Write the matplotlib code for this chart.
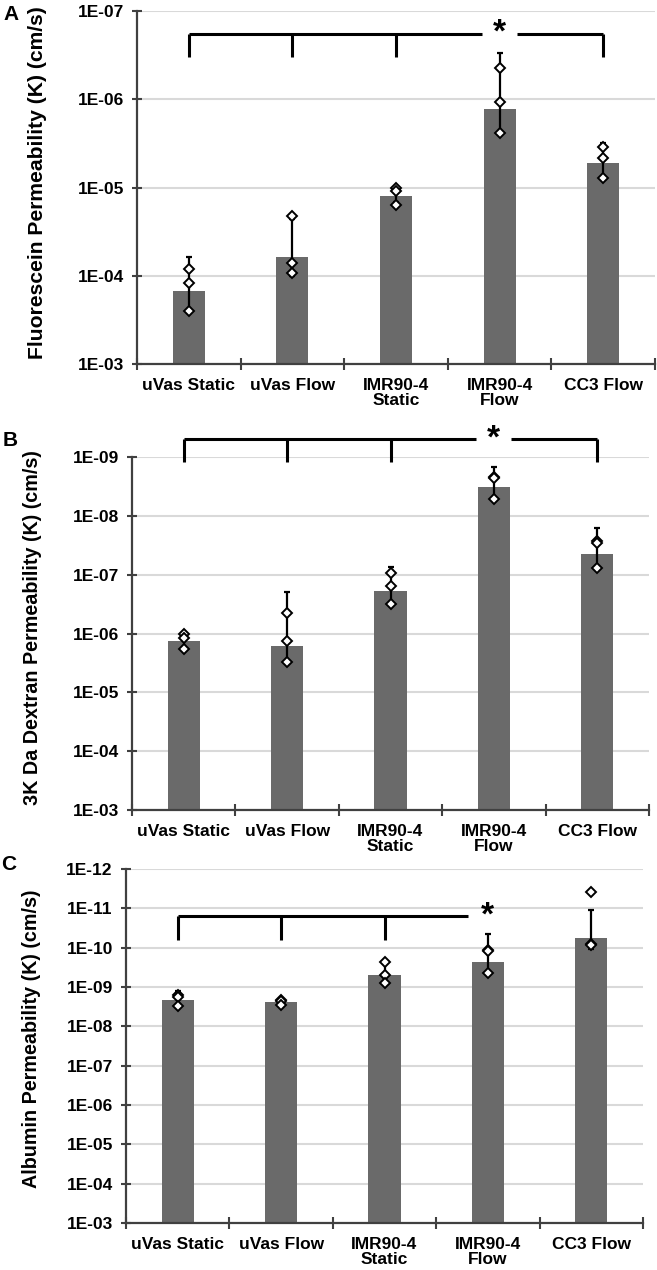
import numpy as np
import matplotlib
matplotlib.use("Agg")
import matplotlib.pyplot as plt
from matplotlib.ticker import FixedLocator, FuncFormatter, NullLocator

plt.rcParams['font.family'] = ['Liberation Sans', 'DejaVu Sans']
plt.rcParams['font.weight'] = 'bold'

categories = ["uVas Static", "uVas Flow", "IMR90-4\nStatic", "IMR90-4\nFlow", "CC3 Flow"]

# Panel A: Fluorescein
A_mean = [1.5e-4, 6.2e-5, 1.25e-5, 1.3e-6, 5.3e-6]
A_sd = [8.8e-5, 3.9e-5, 2.2e-6, 1.0e-6, 2.2e-6]
A_points = [[8.3e-5, 1.2e-4, 2.5e-4],
            [2.1e-5, 7.2e-5, 9.3e-5],
            [1.02e-5, 1.1e-5, 1.58e-5],
            [4.4e-7, 1.07e-6, 2.4e-6],
            [3.5e-6, 4.6e-6, 7.8e-6]]

# Panel B: 3K Da Dextran
B_mean = [1.35e-6, 1.6e-6, 1.9e-7, 3.2e-9, 4.4e-8]
B_sd = [3.7e-7, 1.4e-6, 1.17e-7, 1.7e-9, 2.8e-8]
B_points = [[1.0e-6, 1.2e-6, 1.85e-6],
            [4.5e-7, 1.35e-6, 3.0e-6],
            [9.3e-8, 1.55e-7, 3.2e-7],
            [2.2e-9, 2.3e-9, 5.1e-9],
            [2.7e-8, 2.9e-8, 7.6e-8]]

# Panel C: Albumin
C_mean = [2.1e-9, 2.4e-9, 5.0e-10, 2.3e-10, 5.8e-11]
C_sd = [8.0e-10, 3.6e-10, 2.75e-10, 1.85e-10, 4.7e-11]
C_points = [[1.6e-9, 1.8e-9, 3.1e-9],
            [2.1e-9, 2.3e-9, 2.8e-9],
            [2.3e-10, 4.9e-10, 7.8e-10],
            [1.15e-10, 1.25e-10, 4.4e-10],
            [3.8e-12, 8.3e-11, 8.7e-11]]

A_ticks = [1e-3, 1e-4, 1e-5, 1e-6, 1e-7]
B_ticks = [1e-3, 1e-4, 1e-5, 1e-6, 1e-7, 1e-8, 1e-9]
C_ticks = [1e-3, 1e-4, 1e-5, 1e-6, 1e-7, 1e-8, 1e-9, 1e-10, 1e-11, 1e-12]

ylabels = ["Fluorescein Permeability (K) (cm/s)",
           "3K Da Dextran Permeability (K) (cm/s)",
           "Albumin Permeability (K) (cm/s)"]
letters = ["A", "B", "C"]

W, H = 657, 1270
fig = plt.figure(figsize=(W / 100, H / 100), dpi=100)

def px_axes(left, top, right, bottom):
    return fig.add_axes([left / W, 1 - bottom / H, (right - left) / W, (bottom - top) / H])

BAR_COLOR = '#6a6a6a'
SPINE = '#404040'
GRID = '#d9d9d9'

def draw_panel(ax, means, sds, points, ticks):
    x = np.arange(len(categories))
    base = ticks[0]
    top = ticks[-1]
    ax.set_yscale('log')
    ax.set_ylim(base, top)
    ax.set_xlim(-0.5, len(categories) - 0.5)
    ax.bar(x, [m - base for m in means], bottom=base, width=0.31,
           color=BAR_COLOR, zorder=2)
    ax.errorbar(x, means, yerr=sds, fmt='none', ecolor='black',
                elinewidth=1.6, capsize=2.5, capthick=1.6, zorder=3)
    for xi, pts in zip(x, points):
        ax.plot([xi] * len(pts), pts, linestyle='none', marker='D',
                markersize=4.8, markerfacecolor='white',
                markeredgecolor='black', markeredgewidth=1.4, zorder=4)
    ax.yaxis.set_major_locator(FixedLocator(ticks))
    ax.yaxis.set_minor_locator(NullLocator())
    ax.yaxis.set_major_formatter(FuncFormatter(
        lambda v, p: "1E-%02d" % int(round(-np.log10(v)))))
    ax.grid(axis='y', color=GRID, linewidth=1.5, zorder=0)
    ax.set_axisbelow(True)
    ax.set_xticks(x)
    ax.set_xticklabels(categories, fontsize=12.5, fontweight='bold',
                       linespacing=1.05)
    ax.set_xticks(np.arange(len(categories) + 1) - 0.5, minor=True)
    ax.tick_params(axis='x', which='major', length=0, pad=10)
    ax.tick_params(axis='x', which='minor', length=9, width=1.5,
                   direction='inout', color=SPINE)
    ax.tick_params(axis='y', which='major', length=7, width=1.5,
                   direction='inout', color=SPINE, labelsize=12.5, pad=6)
    for lab in ax.get_yticklabels():
        lab.set_fontweight('bold')
    for s in ['top', 'right']:
        ax.spines[s].set_visible(False)
    for s in ['left', 'bottom']:
        ax.spines[s].set_color(SPINE)
        ax.spines[s].set_linewidth(1.6)

def bracket(ax, idxs, y, ydrop, star_idx, gap, right_end=None):
    lw = 2.2
    xs = list(idxs)
    ax.plot([xs[0], star_idx - gap], [y, y], color='black', lw=lw,
            clip_on=False, zorder=5, solid_capstyle='butt')
    if right_end is not None:
        ax.plot([star_idx + gap, right_end], [y, y], color='black', lw=lw,
                clip_on=False, zorder=5, solid_capstyle='butt')
        xs = xs + [right_end]
    for xi in xs:
        ax.plot([xi, xi], [y, ydrop], color='black', lw=lw,
                clip_on=False, zorder=5, solid_capstyle='butt')
    ax.text(star_idx, y, "*", fontsize=24, fontweight='bold',
            ha='center', va='center', clip_on=False, zorder=6)

# Panel A
axA = px_axes(137, 11, 655, 364)
draw_panel(axA, A_mean, A_sd, A_points, A_ticks)
bracket(axA, [0, 1, 2], 1.8e-7, 3.3e-7, 3, 0.17, right_end=4)

# Panel B
axB = px_axes(132, 457, 649, 810)
draw_panel(axB, B_mean, B_sd, B_points, B_ticks)
bracket(axB, [0, 1, 2], 4.9e-10, 1.2e-9, 3, 0.17, right_end=4)

# Panel C
axC = px_axes(126, 869, 643, 1223)
draw_panel(axC, C_mean, C_sd, C_points, C_ticks)
bracket(axC, [0, 1, 2], 1.6e-11, 6.3e-11, 3, 0.19, right_end=None)

# y labels
fig.text(38 / W, 1 - 183 / H, ylabels[0], rotation=90, ha='center', va='center',
         fontsize=15.2, fontweight='bold')
fig.text(33 / W, 1 - 628 / H, ylabels[1], rotation=90, ha='center', va='center',
         fontsize=14.2, fontweight='bold')
fig.text(32 / W, 1 - 1039 / H, ylabels[2], rotation=90, ha='center', va='center',
         fontsize=14.2, fontweight='bold')

# panel letters
for lt, (px, py) in zip(letters, [(11, 14), (10, 441), (9, 865)]):
    fig.text(px / W, 1 - py / H, lt, ha='center', va='center',
             fontsize=15, fontweight='bold')

fig.savefig("out.png", dpi=100)
